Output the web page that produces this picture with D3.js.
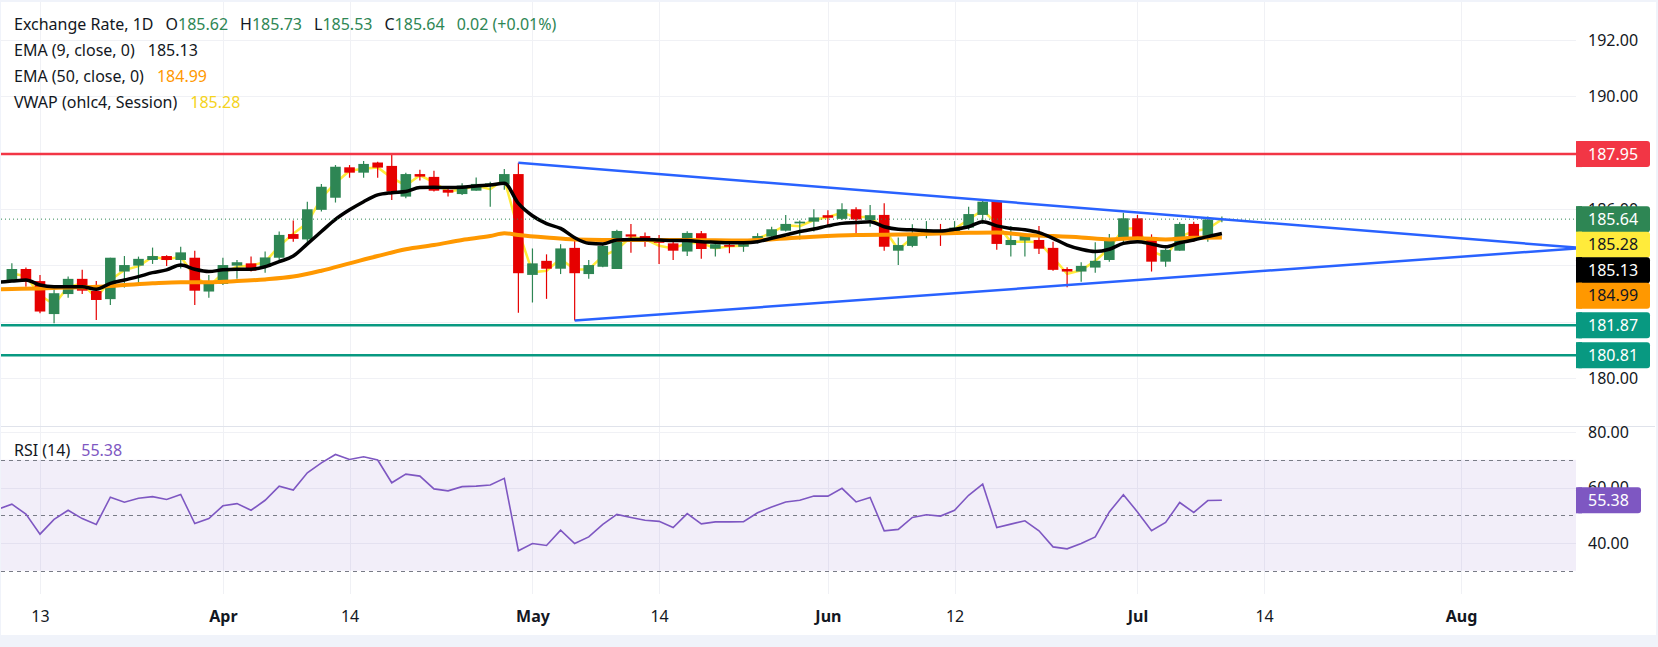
<!DOCTYPE html>
<html>
<head>
<meta charset="utf-8">
<script src="https://cdn.jsdelivr.net/npm/d3@7"></script>
<style>
  html, body { margin: 0; padding: 0; background: #f0f3fa; }
  svg { display: block; font-family: "Noto Sans", sans-serif; }
</style>
</head>
<body>
<div id="chart"></div>
<script>
// bar index 0 = Mar 13, candles start two bars earlier
const firstBar = -2;
const opens = [183.48,183.87,183.44,182.27,182.98,183.52,183.09,182.80,183.78,183.99,184.19,184.33,184.19,184.27,183.07,183.34,183.99,184.07,183.95,184.27,185.11,184.92,185.97,186.40,187.48,187.29,187.65,187.53,186.44,187.24,187.14,186.68,186.53,186.65,186.85,186.88,187.24,183.66,184.16,183.88,184.62,183.69,183.95,183.87,185.10,185.04,184.86,184.78,184.49,185.14,184.59,184.72,184.66,184.83,185.02,185.23,185.49,185.55,185.78,185.65,185.99,185.61,185.79,184.52,184.69,185.08,185.23,185.14,185.34,185.79,186.29,184.72,184.88,184.90,184.62,183.87,183.78,183.92,184.19,184.94,185.67,184.96,184.13,184.52,185.47,184.99,185.62];
const highs = [184.07,183.92,183.66,183.21,183.60,183.84,183.44,184.27,184.33,184.31,184.63,184.36,184.66,184.52,183.66,184.27,184.19,184.31,184.49,185.20,185.59,186.26,186.89,187.56,187.56,187.70,187.68,187.95,187.29,187.39,187.36,186.79,186.91,187.12,186.97,187.42,187.64,184.60,184.39,184.75,185.04,184.19,184.76,185.26,185.47,185.17,185.08,184.92,185.21,185.22,184.78,184.90,184.90,185.14,185.37,185.79,185.59,185.99,185.96,186.20,186.06,186.14,186.20,184.99,185.46,185.57,185.47,185.57,186.08,186.32,186.32,185.40,185.14,185.40,184.84,183.93,184.11,184.82,185.11,185.87,185.79,185.10,184.60,185.53,185.55,185.73,185.73];
const lows = [183.42,183.24,182.30,181.94,182.85,182.98,182.06,182.59,183.21,183.36,184.05,183.98,183.89,182.59,182.85,183.30,183.52,183.78,183.74,184.19,184.84,184.84,185.91,186.23,187.11,187.11,187.11,186.32,186.38,187.01,186.62,186.44,186.50,186.65,186.08,186.68,182.32,182.68,182.81,183.69,182.04,183.52,183.93,183.87,184.45,184.66,184.05,184.19,184.33,184.23,184.31,184.43,184.48,184.78,184.96,185.20,184.92,185.20,185.43,185.61,185.14,185.37,184.52,184.01,184.64,184.96,184.69,185.10,185.26,185.47,184.55,184.31,184.31,184.40,183.81,183.22,183.42,183.74,184.13,184.72,184.88,183.78,183.95,184.52,184.84,184.84,185.53];
const closes = [183.87,183.42,182.36,183.01,183.52,183.10,182.77,184.27,184.01,184.23,184.33,184.19,184.46,183.10,183.39,184.01,184.11,183.81,184.28,185.08,184.94,185.99,186.79,187.50,187.29,187.60,187.47,186.62,187.24,187.15,186.65,186.58,186.83,186.89,186.91,187.24,183.72,184.07,183.88,184.60,183.72,184.01,184.69,185.22,185.02,184.84,184.80,184.52,185.15,184.58,184.75,184.66,184.75,185.04,185.28,185.47,185.55,185.70,185.69,185.99,185.63,185.78,184.66,184.72,185.11,185.23,185.14,185.34,185.82,186.26,184.76,184.90,185.04,184.59,183.84,183.78,183.98,184.16,184.96,185.67,184.92,184.13,184.55,185.47,184.99,185.63,185.64];

// indicator lines start one bar before the candles
const firstLineBar = -3;
const ema9 = [183.40,183.44,183.48,183.30,183.24,183.24,183.24,183.15,183.36,183.48,183.60,183.74,183.84,184.01,183.86,183.78,183.84,183.86,183.86,183.95,184.13,184.33,184.76,185.20,185.63,185.97,186.26,186.50,186.58,186.62,186.76,186.77,186.76,186.77,186.82,186.85,186.91,186.20,185.76,185.48,185.31,184.98,184.78,184.76,184.90,184.92,184.92,184.90,184.88,184.88,184.84,184.82,184.80,184.80,184.84,184.96,185.08,185.20,185.29,185.40,185.49,185.52,185.55,185.37,185.28,185.26,185.23,185.22,185.28,185.37,185.55,185.40,185.31,185.26,185.16,184.96,184.72,184.57,184.49,184.57,184.78,184.84,184.76,184.66,184.80,184.90,185.02,185.13];
const rsi = [52.1,54.0,50.4,43.2,48.5,51.8,48.8,46.7,56.5,54.7,56.1,56.7,55.7,57.5,47.0,48.8,53.4,54.2,51.8,55.4,60.5,59.1,65.3,68.9,71.9,70.1,71.1,69.9,61.7,64.8,64.1,59.5,58.8,60.3,60.5,60.9,63.3,37.2,39.8,39.1,44.6,39.8,42.2,46.7,50.3,49.2,48.2,47.8,45.6,50.6,46.9,47.6,47.6,47.7,50.9,53.0,54.8,55.4,56.9,56.9,59.7,54.8,56.4,44.4,44.9,49.2,50.2,49.7,51.8,57.2,61.2,45.6,46.8,48.0,44.4,38.6,37.9,39.8,42.2,51.2,57.4,51.2,44.4,47.4,54.6,51.0,55.3,55.38];

// EMA 50 read at these bars
const ema50Bars = [-3,-2,0,2,4,6,8,10,12,14,16,18,20,22,24,26,28,30,32,33,34,36,38,42,46,50,54,58,62,66,68,70,72,74,76,78,80,82,84];
const ema50 = [183.15,183.16,183.18,183.21,183.24,183.30,183.36,183.40,183.40,183.44,183.50,183.60,183.81,184.07,184.33,184.57,184.72,184.90,185.04,185.14,185.08,184.99,184.92,184.90,184.90,184.88,184.99,185.08,185.10,185.16,185.17,185.08,185.04,184.99,184.92,184.96,184.92,184.98,184.99];

// triangle trend lines (bar, price)
const upperTrendBars = [34, 109.2];
const upperTrend = [187.64, 184.63];
const lowerTrendBars = [38, 109.2];
const lowerTrend = [182.04, 184.60];

const resistance = 187.95;
const supports = [181.87, 180.81];
const lastPrice = 185.64;

const timeTickBars = [0, 13, 22, 35, 44, 56, 65, 78, 87, 101];
const timeTickLabels = ["13", "Apr", "14", "May", "14", "Jun", "12", "Jul", "14", "Aug"];
const monthLabels = ["Apr", "May", "Jun", "Jul", "Aug"];
const priceTicks = [180, 182, 184, 186, 188, 190, 192];
const rsiTicks = [40, 60, 80];
const rsiLevels = [70, 50, 30];

// scale labels on the right
const markValues = [187.95, 185.64, 185.28, 185.13, 184.99, 181.87, 180.81];
const markFills = ["#f23645", "#2e8654", "#ffeb3b", "#000000", "#ff9800", "#089981", "#089981"];
const markText = ["#ffffff", "#ffffff", "#131722", "#ffffff", "#131722", "#ffffff", "#ffffff"];

const width = 1658, height = 647;
const plotRight = 1576;
const upColor = "#2e8654", downColor = "#e60000";

const svg = d3.select("#chart").append("svg")
    .attr("width", width)
    .attr("height", height);

svg.append("rect")
    .attr("x", 1).attr("y", 2)
    .attr("width", 1655).attr("height", 633)
    .attr("fill", "#ffffff");

const x = d3.scaleLinear().domain([0, 101]).range([40, 40 + 101 * 14.07]);
const y = d3.scaleLinear().domain([180, 192]).range([378, 40]);
const yR = d3.scaleLinear().domain([40, 80]).range([543, 432]);

const defs = svg.append("defs");
defs.append("clipPath").attr("id", "clipPrice")
    .append("rect").attr("x", 1).attr("y", 2).attr("width", plotRight - 1).attr("height", 424);
defs.append("clipPath").attr("id", "clipRsi")
    .append("rect").attr("x", 1).attr("y", 427).attr("width", plotRight - 1).attr("height", 167);

// grid
const grid = svg.append("g").attr("stroke", "#f0f1f5").attr("stroke-width", 1);
grid.selectAll(".hp").data(priceTicks).join("line")
    .attr("x1", 1).attr("x2", plotRight)
    .attr("y1", d => Math.round(y(d)) + 0.5).attr("y2", d => Math.round(y(d)) + 0.5);
grid.selectAll(".hr").data(rsiTicks).join("line")
    .attr("x1", 1).attr("x2", plotRight)
    .attr("y1", d => Math.round(yR(d)) + 0.5).attr("y2", d => Math.round(yR(d)) + 0.5);
grid.selectAll(".v").data(timeTickBars).join("line")
    .attr("x1", d => Math.round(x(d)) + 0.5).attr("x2", d => Math.round(x(d)) + 0.5)
    .attr("y1", 2).attr("y2", 594);

// pane separator
svg.append("line")
    .attr("x1", 1).attr("x2", 1655).attr("y1", 426.5).attr("y2", 426.5)
    .attr("stroke", "#e0e3eb");

const price = svg.append("g").attr("clip-path", "url(#clipPrice)");

const bars = d3.range(opens.length).map(function (i) {
    return {bar: firstBar + i, o: opens[i], h: highs[i], l: lows[i], c: closes[i]};
});

// vwap (ohlc4 per daily session), under the candles
const vwapLine = d3.line()
    .x(d => x(d.bar))
    .y(d => y((d.o + d.h + d.l + d.c) / 4));
price.append("path").datum(bars)
    .attr("fill", "none").attr("stroke", "#ffeb3b").attr("stroke-width", 2.5)
    .attr("d", vwapLine);

// candles
const candle = price.selectAll(".candle").data(bars).join("g")
    .attr("fill", d => d.c >= d.o ? upColor : downColor)
    .attr("stroke", d => d.c >= d.o ? upColor : downColor);
candle.append("line")
    .attr("x1", d => x(d.bar)).attr("x2", d => x(d.bar))
    .attr("y1", d => y(d.h)).attr("y2", d => y(d.l))
    .attr("stroke-width", 1.2);
candle.append("rect")
    .attr("stroke", "none")
    .attr("x", d => x(d.bar) - 5.3)
    .attr("width", 10.6)
    .attr("y", d => y(Math.max(d.o, d.c)))
    .attr("height", d => Math.max(1, Math.abs(y(d.o) - y(d.c))));

// EMA 50
price.append("path")
    .datum(ema50Bars.map((b, i) => [b, ema50[i]]))
    .attr("fill", "none").attr("stroke", "#ff9800").attr("stroke-width", 4)
    .attr("d", d3.line().curve(d3.curveMonotoneX).x(d => x(d[0])).y(d => y(d[1])));

// EMA 9
price.append("path")
    .datum(ema9.map((v, i) => [firstLineBar + i, v]))
    .attr("fill", "none").attr("stroke", "#000000").attr("stroke-width", 3.5)
    .attr("stroke-linejoin", "round")
    .attr("d", d3.line().curve(d3.curveMonotoneX).x(d => x(d[0])).y(d => y(d[1])));

// last price dotted line
price.append("line")
    .attr("x1", 1).attr("x2", plotRight)
    .attr("y1", y(lastPrice)).attr("y2", y(lastPrice))
    .attr("stroke", upColor).attr("stroke-dasharray", "1,3");

// horizontal levels
price.append("line")
    .attr("x1", 1).attr("x2", plotRight)
    .attr("y1", y(resistance)).attr("y2", y(resistance))
    .attr("stroke", "#f23645").attr("stroke-width", 2.5);
price.selectAll(".support").data(supports).join("line")
    .attr("x1", 1).attr("x2", plotRight)
    .attr("y1", d => y(d)).attr("y2", d => y(d))
    .attr("stroke", "#089981").attr("stroke-width", 2.5);

// triangle
[[upperTrendBars, upperTrend], [lowerTrendBars, lowerTrend]].forEach(function (t) {
    price.append("line")
        .attr("x1", x(t[0][0])).attr("y1", y(t[1][0]))
        .attr("x2", x(t[0][1])).attr("y2", y(t[1][1]))
        .attr("stroke", "#2962ff").attr("stroke-width", 2.5);
});

// RSI pane
const rsiG = svg.append("g").attr("clip-path", "url(#clipRsi)");
rsiG.append("rect")
    .attr("x", 1).attr("width", plotRight - 1)
    .attr("y", yR(70)).attr("height", yR(30) - yR(70))
    .attr("fill", "#7e57c2").attr("fill-opacity", 0.1);
rsiG.selectAll(".lvl").data(rsiLevels).join("line")
    .attr("x1", 1).attr("x2", plotRight)
    .attr("y1", d => Math.round(yR(d)) + 0.5).attr("y2", d => Math.round(yR(d)) + 0.5)
    .attr("stroke", "#787b86").attr("stroke-dasharray", "4,4");
rsiG.append("path")
    .datum(rsi.map((v, i) => [firstLineBar + i, v]))
    .attr("fill", "none").attr("stroke", "#7e57c2").attr("stroke-width", 1.6)
    .attr("d", d3.line().x(d => x(d[0])).y(d => yR(d[1])));

// price labels on the scale, stacked so they do not overlap
const boxH = 25.5;
let prevY = -100;
const marks = markValues.map(function (v, i) {
    const cy = Math.max(y(v), prevY + boxH);
    prevY = cy;
    return {v: v, cy: cy, fill: markFills[i], text: markText[i]};
});

// tick labels sitting right under a price label are hidden, like the scale does
const shownPriceTicks = priceTicks.filter(t => !marks.some(m => Math.abs(m.cy - y(t)) < 8));

// right scales
const priceAxis = svg.append("g")
    .attr("transform", "translate(" + plotRight + ",0)")
    .call(d3.axisRight(y).tickValues(shownPriceTicks).tickSize(0).tickPadding(12).tickFormat(d3.format(".2f")));
const rsiAxis = svg.append("g")
    .attr("transform", "translate(" + plotRight + ",0)")
    .call(d3.axisRight(yR).tickValues(rsiTicks).tickSize(0).tickPadding(12).tickFormat(d3.format(".2f")));
[priceAxis, rsiAxis].forEach(function (a) {
    a.select(".domain").remove();
    a.selectAll("text").attr("font-size", 16).attr("fill", "#131722")
        .attr("font-family", "Noto Sans, sans-serif");
});

// time axis
const timeAxis = svg.append("g")
    .attr("transform", "translate(0,594)")
    .call(d3.axisBottom(x).tickValues(timeTickBars).tickSize(0).tickPadding(17)
        .tickFormat((d, i) => timeTickLabels[i]));
timeAxis.select(".domain").remove();
timeAxis.selectAll("text")
    .attr("font-size", 16).attr("fill", "#131722")
    .attr("font-family", "Noto Sans, sans-serif")
    .attr("font-weight", (d, i) => monthLabels.includes(timeTickLabels[i]) ? 700 : 400);

const markG = svg.selectAll(".mark").data(marks).join("g");
markG.append("rect")
    .attr("x", plotRight).attr("y", d => d.cy - 13)
    .attr("width", 74).attr("height", 26).attr("rx", 3)
    .attr("fill", d => d.fill);
markG.append("rect")
    .attr("x", plotRight).attr("y", d => d.cy - 13)
    .attr("width", 6).attr("height", 26)
    .attr("fill", d => d.fill);
markG.append("text")
    .attr("x", 1588).attr("y", d => d.cy).attr("dy", "0.35em")
    .attr("font-size", 16).attr("fill", d => d.text)
    .text(d => d.v.toFixed(2));

// RSI value label
const rsiLast = rsi[rsi.length - 1];
svg.append("rect")
    .attr("x", plotRight).attr("y", yR(rsiLast) - 13)
    .attr("width", 65).attr("height", 26).attr("rx", 3)
    .attr("fill", "#7e57c2");
svg.append("rect")
    .attr("x", plotRight).attr("y", yR(rsiLast) - 13)
    .attr("width", 6).attr("height", 26)
    .attr("fill", "#7e57c2");
svg.append("text")
    .attr("x", 1588).attr("y", yR(rsiLast)).attr("dy", "0.35em")
    .attr("font-size", 16).attr("fill", "#ffffff")
    .text(rsiLast.toFixed(2));

// legends
const legend = svg.append("g").attr("font-size", 16).attr("fill", "#131722");
const lastBar = bars[bars.length - 1];
const row1 = legend.append("text").attr("x", 14).attr("y", 29.5);
row1.append("tspan").text("Exchange Rate, 1D");
[["O", lastBar.o], ["H", lastBar.h], ["L", lastBar.l], ["C", lastBar.c]].forEach(function (p) {
    row1.append("tspan").attr("dx", 12).text(p[0]);
    row1.append("tspan").attr("fill", upColor).text(p[1].toFixed(2));
});
row1.append("tspan").attr("dx", 12).attr("fill", upColor).text("0.02 (+0.01%)");

const rows = [
    ["EMA (9, close, 0)", "185.13", "#131722"],
    ["EMA (50, close, 0)", "184.99", "#ff9800"],
    ["VWAP (ohlc4, Session)", "185.28", "#f5d320"]
];
rows.forEach(function (r, i) {
    const t = legend.append("text").attr("x", 14).attr("y", 55.5 + i * 26);
    t.append("tspan").text(r[0]);
    t.append("tspan").attr("dx", 13).attr("fill", r[2]).text(r[1]);
});

const rsiLegend = legend.append("text").attr("x", 14).attr("y", 455.5);
rsiLegend.append("tspan").text("RSI (14)");
rsiLegend.append("tspan").attr("dx", 11).attr("fill", "#7e57c2").text(rsiLast.toFixed(2));
</script>
</body>
</html>
